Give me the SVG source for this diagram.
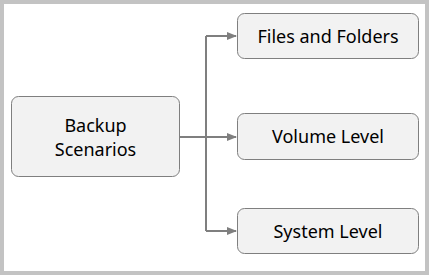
<svg xmlns="http://www.w3.org/2000/svg" width="429" height="275" viewBox="0 0 429 275">
<style>
.node rect{fill:#f2f2f2;stroke:#7f7f7f;stroke-width:1}
.node text{font-family:"Noto Sans","Open Sans",sans-serif;font-size:18px;fill:#000000;text-anchor:middle}
.conn{fill:none;stroke:#7f7f7f;stroke-width:2}
</style>
<defs>
<marker id="arr" markerWidth="10" markerHeight="8" refX="9" refY="4" orient="auto" markerUnits="userSpaceOnUse">
<path d="M0,0 L10,4 L0,8 Z" fill="#7f7f7f"/>
</marker>
</defs>
<rect x="2" y="2" width="425" height="271" fill="#ffffff" stroke="#c3c3c3" stroke-width="4"/>
<g id="connectors">
<path class="conn" d="M180,137 H206"/>
<path class="conn" d="M206,36 V231"/>
<path class="conn" d="M206,36 H236" marker-end="url(#arr)"/>
<path class="conn" d="M206,137 H236" marker-end="url(#arr)"/>
<path class="conn" d="M206,231 H236" marker-end="url(#arr)"/>
</g>
<g id="backup" class="node">
<rect x="11.5" y="96.5" width="168" height="80" rx="7"/>
<text x="95.5" y="132">Backup</text>
<text x="95.5" y="156">Scenarios</text>
</g>
<g id="files" class="node">
<rect x="237.5" y="13.5" width="181" height="45" rx="7"/>
<text x="328" y="43">Files and Folders</text>
</g>
<g id="volume" class="node">
<rect x="237.5" y="113.5" width="181" height="46" rx="7"/>
<text x="328" y="143">Volume Level</text>
</g>
<g id="system" class="node">
<rect x="237.5" y="208.5" width="181" height="45" rx="7"/>
<text x="328" y="238">System Level</text>
</g>
</svg>
